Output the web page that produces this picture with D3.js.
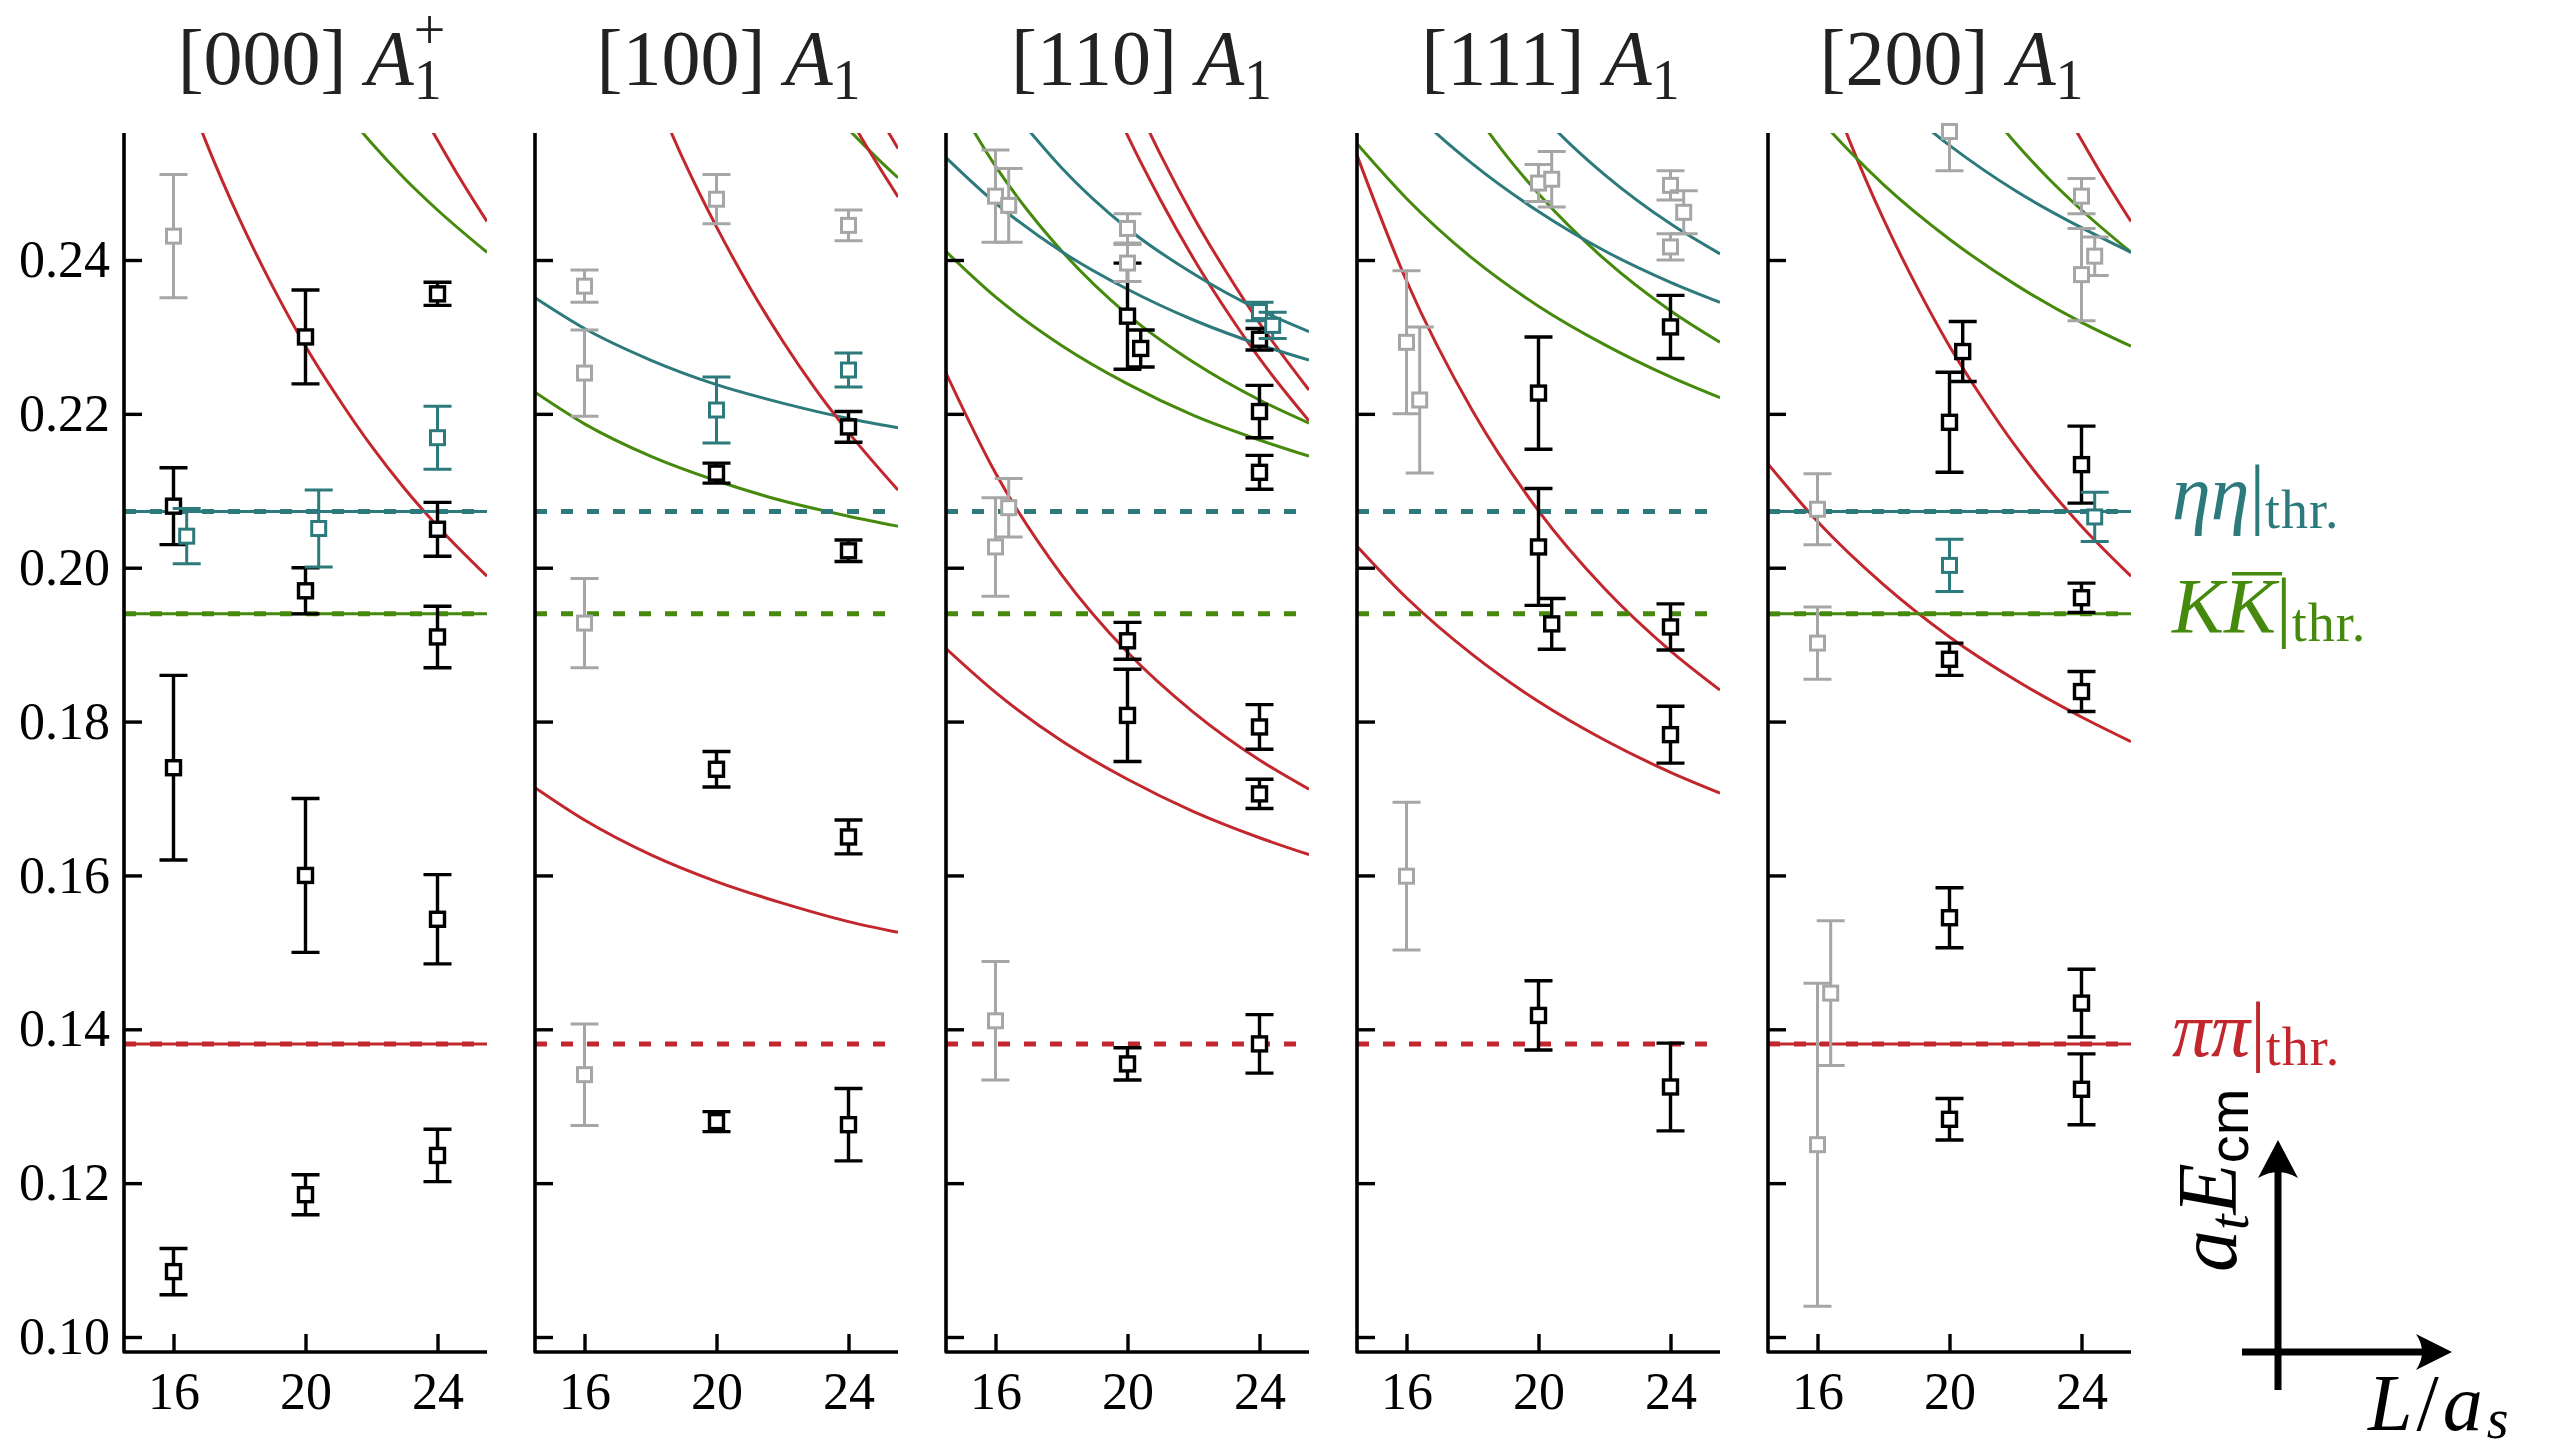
<!DOCTYPE html>
<html lang="en">
<head>
<meta charset="UTF-8">
<title>Finite-volume spectra, A1 irreps</title>
<script src="https://d3js.org/d3.v7.min.js"></script>
<style>
  body { margin: 0; background: #fff; }
  svg text { font-family: "Liberation Serif", "DejaVu Serif", serif; }
</style>
</head>
<body>
<svg id="chart" width="2553" height="1451"></svg>
<script>
// ---------- data ----------
const panelMomenta = ["[000]", "[100]", "[110]", "[111]", "[200]"];
const panelSup = ["+", "", "", "", ""];
const yTicks = [0.10, 0.12, 0.14, 0.16, 0.18, 0.20, 0.22, 0.24];
const xTicks = [16, 20, 24];
const thrNames = ["pipi", "kk", "etaeta"];
const thrValues = [0.1381, 0.1940, 0.2073];
// panels where the threshold is also a solid non-interacting level
const solidThrPanels = [0, 4];

// non-interacting levels: [L/a_s, a_t E_cm]
const curves000 = [
  { ch: "pipi", pts: [[16.5, 0.2607], [17, 0.2552], [18, 0.2453], [19, 0.2366], [20, 0.2288], [21, 0.2220], [22, 0.2158], [23, 0.2103], [24, 0.2054], [25.5, 0.1989]] },
  { ch: "kk",   pts: [[21, 0.2604], [22, 0.2552], [23, 0.2506], [24, 0.2465], [25.5, 0.2410]] },
  { ch: "pipi", pts: [[23, 0.2635], [23.5, 0.2594], [24, 0.2556], [24.5, 0.2519], [25.5, 0.2450]] }
];
const curves100 = [
  { ch: "pipi",   pts: [[14.5, 0.1714], [16, 0.1672], [18, 0.1627], [20, 0.1592], [22, 0.1564], [24, 0.1540], [25.5, 0.1526]] },
  { ch: "etaeta", pts: [[14.5, 0.2351], [16, 0.2311], [18, 0.2270], [20, 0.2238], [22, 0.2214], [24, 0.2194], [25.5, 0.2182]] },
  { ch: "kk",     pts: [[14.5, 0.2228], [16, 0.2187], [18, 0.2145], [20, 0.2113], [22, 0.2087], [24, 0.2067], [25.5, 0.2054]] },
  { ch: "pipi",   pts: [[18, 0.2629], [19, 0.2530], [20, 0.2443], [21, 0.2365], [22, 0.2295], [23, 0.2232], [24, 0.2176], [25.5, 0.2101]] },
  { ch: "kk",     pts: [[23.5, 0.2594], [24, 0.2570], [24.5, 0.2548], [25, 0.2527], [25.5, 0.2507]] },
  { ch: "pipi",   pts: [[24, 0.2588], [24.5, 0.2551], [25, 0.2516], [25.5, 0.2482]] },
  { ch: "pipi",   pts: [[25, 0.2581], [25.25, 0.2563], [25.5, 0.2545]] }
];
const curves110 = [
  { ch: "pipi",   pts: [[14.5, 0.1895], [16, 0.1838], [18, 0.1775], [20, 0.1725], [22, 0.1683], [24, 0.1649], [25.5, 0.1627]] },
  { ch: "pipi",   pts: [[14.5, 0.2253], [16, 0.2123], [18, 0.1991], [20, 0.1890], [22, 0.1812], [24, 0.1750], [25.5, 0.1712]] },
  { ch: "pipi",   pts: [[19, 0.2657], [20, 0.2562], [21, 0.2478], [22, 0.2402], [23, 0.2334], [24, 0.2272], [25.5, 0.2191]] },
  { ch: "pipi",   pts: [[20, 0.2627], [21, 0.2537], [22, 0.2456], [23, 0.2384], [24, 0.2318], [25.5, 0.2231]] },
  { ch: "kk",     pts: [[14.5, 0.2411], [16, 0.2352], [18, 0.2289], [20, 0.2239], [22, 0.2198], [24, 0.2166], [25.5, 0.2145]] },
  { ch: "kk",     pts: [[15, 0.2592], [16, 0.2522], [17, 0.2463], [18, 0.2412], [20, 0.2329], [22, 0.2267], [24, 0.2218], [25.5, 0.2188]] },
  { ch: "etaeta", pts: [[14.5, 0.2533], [16, 0.2474], [18, 0.2411], [20, 0.2362], [22, 0.2322], [24, 0.2290], [25.5, 0.2270]] },
  { ch: "etaeta", pts: [[17, 0.2569], [18, 0.2520], [20, 0.2441], [22, 0.2382], [24, 0.2335], [25.5, 0.2307]] }
];
const curves111 = [
  { ch: "pipi",   pts: [[14.5, 0.2028], [16, 0.1961], [18, 0.1887], [20, 0.1826], [22, 0.1776], [24, 0.1734], [25.5, 0.1707]] },
  { ch: "pipi",   pts: [[14.5, 0.2536], [16, 0.2373], [18, 0.2204], [20, 0.2074], [22, 0.1973], [24, 0.1892], [25.5, 0.1841]] },
  { ch: "kk",     pts: [[14.5, 0.2551], [16, 0.2480], [18, 0.2402], [20, 0.2340], [22, 0.2290], [24, 0.2248], [25.5, 0.2221]] },
  { ch: "kk",     pts: [[18, 0.2595], [19, 0.2537], [20, 0.2486], [22, 0.2401], [24, 0.2334], [25.5, 0.2293]] },
  { ch: "etaeta", pts: [[16, 0.2602], [17, 0.2561], [18, 0.2525], [20, 0.2463], [22, 0.2412], [24, 0.2371], [25.5, 0.2345]] },
  { ch: "etaeta", pts: [[20, 0.2592], [21, 0.2549], [22, 0.2511], [24, 0.2447], [25.5, 0.2408]] }
];
const curves200 = [
  { ch: "pipi",   pts: [[14.5, 0.2135], [16, 0.2060], [18, 0.1978], [20, 0.1910], [22, 0.1854], [24, 0.1806], [25.5, 0.1774]] },
  { ch: "pipi",   pts: [[16.5, 0.2607], [17, 0.2552], [18, 0.2453], [19, 0.2366], [20, 0.2288], [21, 0.2220], [22, 0.2158], [23, 0.2103], [24, 0.2054], [25.5, 0.1989]] },
  { ch: "pipi",   pts: [[23, 0.2635], [23.5, 0.2594], [24, 0.2556], [24.5, 0.2519], [25.5, 0.2450]] },
  { ch: "kk",     pts: [[16, 0.2586], [17, 0.2540], [18, 0.2498], [20, 0.2427], [22, 0.2368], [24, 0.2319], [25.5, 0.2288]] },
  { ch: "kk",     pts: [[21, 0.2604], [22, 0.2552], [23, 0.2506], [24, 0.2465], [25.5, 0.2410]] },
  { ch: "etaeta", pts: [[19, 0.2583], [20, 0.2549], [22, 0.2490], [24, 0.2442], [25.5, 0.2410]] }
];

// extracted levels: [L/a_s, a_t E_cm, error, kind]  k = black, t = teal, g = grey
const points000 = [
  [16, 0.2431, 0.0080, "g"], [16, 0.2080, 0.0050, "k"], [16.4, 0.2041, 0.0036, "t"],
  [16, 0.1740, 0.0120, "k"], [16, 0.1085, 0.0030, "k"],
  [20, 0.2300, 0.0061, "k"], [20.4, 0.2051, 0.0050, "t"], [20, 0.1970, 0.0030, "k"],
  [20, 0.1600, 0.0100, "k"], [20, 0.1185, 0.0026, "k"],
  [24, 0.2356, 0.0015, "k"], [24, 0.2169, 0.0041, "t"], [24, 0.2050, 0.0035, "k"],
  [24, 0.1910, 0.0040, "k"], [24, 0.1543, 0.0058, "k"], [24, 0.1236, 0.0034, "k"]
];
const points100 = [
  [16, 0.2366, 0.0021, "g"], [16, 0.2253, 0.0056, "g"], [16, 0.1928, 0.0058, "g"], [16, 0.1341, 0.0066, "g"],
  [20, 0.2479, 0.0032, "g"], [20, 0.2205, 0.0043, "t"], [20, 0.2123, 0.0013, "k"],
  [20, 0.1738, 0.0023, "k"], [20, 0.1280, 0.0013, "k"],
  [24, 0.2445, 0.0020, "g"], [24, 0.2257, 0.0022, "t"], [24, 0.2183, 0.0020, "k"],
  [24, 0.2022, 0.0014, "k"], [24, 0.1650, 0.0022, "k"], [24, 0.1276, 0.0047, "k"]
];
const points110 = [
  [16, 0.2483, 0.0060, "g"], [16.4, 0.2471, 0.0048, "g"], [16.4, 0.2078, 0.0038, "g"],
  [16, 0.2027, 0.0064, "g"], [16, 0.1411, 0.0077, "g"],
  [20, 0.2441, 0.0019, "g"], [20, 0.2396, 0.0024, "g"], [20, 0.2327, 0.0069, "k"],
  [20.4, 0.2285, 0.0024, "k"], [20, 0.1905, 0.0024, "k"], [20, 0.1808, 0.0060, "k"], [20, 0.1355, 0.0021, "k"],
  [24, 0.2333, 0.0012, "t"], [24.4, 0.2315, 0.0017, "t"], [24, 0.2297, 0.0014, "k"],
  [24, 0.2203, 0.0034, "k"], [24, 0.2124, 0.0022, "k"], [24, 0.1793, 0.0029, "k"],
  [24, 0.1706, 0.0019, "k"], [24, 0.1381, 0.0038, "k"]
];
const points111 = [
  [16, 0.2293, 0.0093, "g"], [16.4, 0.2218, 0.0095, "g"], [16, 0.1599, 0.0096, "g"],
  [20, 0.2500, 0.0024, "g"], [20.4, 0.2505, 0.0036, "g"], [20, 0.2227, 0.0073, "k"],
  [20, 0.2027, 0.0076, "k"], [20.4, 0.1927, 0.0033, "k"], [20, 0.1418, 0.0045, "k"],
  [24, 0.2497, 0.0019, "g"], [24.4, 0.2462, 0.0028, "g"], [24, 0.2417, 0.0017, "g"],
  [24, 0.2313, 0.0041, "k"], [24, 0.1923, 0.0030, "k"], [24, 0.1783, 0.0037, "k"], [24, 0.1325, 0.0057, "k"]
];
const points200 = [
  [16, 0.2076, 0.0046, "g"], [16, 0.1902, 0.0047, "g"], [16.4, 0.1447, 0.0094, "g"], [16, 0.1250, 0.0210, "g"],
  [20, 0.2567, 0.0051, "g"], [20.4, 0.2281, 0.0039, "k"], [20, 0.2189, 0.0065, "k"], [20, 0.2003, 0.0034, "t"],
  [20, 0.1881, 0.0021, "k"], [20, 0.1545, 0.0039, "k"], [20, 0.1283, 0.0027, "k"],
  [24, 0.2483, 0.0023, "g"], [24.4, 0.2405, 0.0025, "g"], [24, 0.2381, 0.0060, "g"],
  [24, 0.2134, 0.0050, "k"], [24.4, 0.2066, 0.0032, "t"], [24, 0.1961, 0.0019, "k"],
  [24, 0.1839, 0.0026, "k"], [24, 0.1434, 0.0044, "k"], [24, 0.1322, 0.0046, "k"]
];

const panels = [
  { curves: curves000, points: points000 },
  { curves: curves100, points: points100 },
  { curves: curves110, points: points110 },
  { curves: curves111, points: points111 },
  { curves: curves200, points: points200 }
];

// ---------- styling / layout ----------
const chColor = { pipi: "#c1272d", kk: "#458a0c", etaeta: "#2d7a7d" };
const ptColor = { k: "#000000", t: "#2d7a7d", g: "#a6a6a6" };
const kindOrder = ["k", "t", "g"];
const titleShift = [6, 12, 14, 12, 2];

const panelX0 = 124, panelStep = 411, panelW = 363;
const yTop = 133, yBot = 1352;

const svg = d3.select("#chart");
const x = d3.scaleLinear().domain([14.5, 25.5]).range([0, panelW]);
const y = d3.scaleLinear().domain([0.10, 0.24]).range([1337, 260]);
const line = d3.line().x(d => x(d[0])).y(d => y(d[1])).curve(d3.curveMonotoneX);

panels.forEach((p, i) => {
  const g = svg.append("g").attr("transform", `translate(${panelX0 + i * panelStep},0)`);

  g.append("clipPath").attr("id", "clip" + i)
    .append("rect")
    .attr("x", 0).attr("y", yTop)
    .attr("width", panelW).attr("height", yBot - yTop);

  const plot = g.append("g").attr("clip-path", `url(#clip${i})`);

  // non-interacting curves
  plot.selectAll(".curve")
    .data(p.curves)
    .join("path")
    .attr("class", "curve")
    .attr("d", d => line(d.pts))
    .attr("fill", "none")
    .attr("stroke", d => chColor[d.ch])
    .attr("stroke-width", 3);

  const thr = thrNames.map((n, j) => ({ ch: n, v: thrValues[j] }));

  if (solidThrPanels.includes(i)) {
    plot.selectAll(".thr-solid")
      .data(thr)
      .join("line")
      .attr("class", "thr-solid")
      .attr("x1", x(14.5)).attr("x2", x(25.5))
      .attr("y1", d => y(d.v)).attr("y2", d => y(d.v))
      .attr("stroke", d => chColor[d.ch])
      .attr("stroke-width", 3);
  }

  plot.selectAll(".thr-dash")
    .data(thr)
    .join("line")
    .attr("class", "thr-dash")
    .attr("x1", x(14.5)).attr("x2", x(25.5))
    .attr("y1", d => y(d.v)).attr("y2", d => y(d.v))
    .attr("stroke", d => chColor[d.ch])
    .attr("stroke-width", 5)
    .attr("stroke-dasharray", "12,14");

  // data points with error bars
  const pts = p.points.slice().sort((a, b) => kindOrder.indexOf(a[3]) - kindOrder.indexOf(b[3]));
  const capW = 28, box = 14;
  const pg = g.selectAll(".pt")
    .data(pts)
    .join("g")
    .attr("class", "pt");

  pg.append("path")
    .attr("clip-path", `url(#clip${i})`)
    .attr("d", d => {
      const cx = x(d[0]), yl = y(d[1] - d[2]), yh = y(d[1] + d[2]);
      return `M${cx - capW / 2},${yl}H${cx + capW / 2}M${cx - capW / 2},${yh}H${cx + capW / 2}M${cx},${yl}V${yh}`;
    })
    .attr("fill", "none")
    .attr("stroke", d => ptColor[d[3]])
    .attr("stroke-width", d => d[3] === "k" ? 3.4 : 3);

  pg.append("rect")
    .attr("x", d => x(d[0]) - box / 2)
    .attr("y", d => y(d[1]) - box / 2)
    .attr("width", box).attr("height", box)
    .attr("fill", "#fff")
    .attr("stroke", d => ptColor[d[3]])
    .attr("stroke-width", d => d[3] === "k" ? 3.4 : 3);

  // axes
  const yAxis = g.append("g")
    .call(d3.axisLeft(y).tickValues(yTicks).tickSize(-18).tickSizeOuter(0).tickPadding(14)
      .tickFormat(i === 0 ? d3.format(".2f") : () => ""));
  const xAxis = g.append("g")
    .attr("transform", `translate(0,${yBot})`)
    .call(d3.axisBottom(x).tickValues(xTicks).tickSize(-18).tickSizeOuter(0).tickPadding(20));

  [yAxis, xAxis].forEach(a => {
    a.select(".domain").remove();
    a.selectAll(".tick line").attr("stroke", "#000").attr("stroke-width", 3.4);
    a.selectAll(".tick text")
      .attr("font-family", "Liberation Serif")
      .attr("font-size", 52)
      .attr("fill", "#000");
  });

  g.append("path")
    .attr("d", `M0,${yTop}V${yBot}H${panelW}`)
    .attr("fill", "none")
    .attr("stroke", "#000")
    .attr("stroke-width", 3.6)
    .attr("stroke-linejoin", "round");

  // title
  const t = g.append("text")
    .attr("x", panelW / 2 + titleShift[i])
    .attr("y", 84)
    .attr("text-anchor", "middle")
    .attr("font-size", 78)
    .attr("fill", "#222");
  t.append("tspan").text(panelMomenta[i] + " ");
  t.append("tspan").attr("font-style", "italic").text("A");
  t.append("tspan").attr("font-size", 56).attr("dy", 15).text("1");
  if (panelSup[i]) {
    t.append("tspan").attr("font-size", 56).attr("dx", -28).attr("dy", -50).text(panelSup[i]);
  }
});

// threshold labels on the right
const labelX = 2172;
const labelDy = { pipi: 12, kk: 18, etaeta: 7 };
const labelMain = { pipi: ["π", "π"], kk: ["K", "K"], etaeta: ["η", "η"] };
thrNames.forEach((n, j) => {
  const ty = y(thrValues[j]) + labelDy[n];
  const t = svg.append("text")
    .attr("x", labelX).attr("y", ty)
    .attr("font-size", 78)
    .attr("fill", chColor[n]);
  t.append("tspan").attr("font-style", "italic").text(labelMain[n][0]);
  t.append("tspan").attr("font-style", "italic").text(labelMain[n][1]);
  t.append("tspan").text("|");
  t.append("tspan").attr("font-size", 54).attr("dy", 9).attr("letter-spacing", 1).text("thr.");
  if (n === "kk") {
    // overline on the second K
    const node = t.node();
    const s = node.getStartPositionOfChar(1).x;
    const e = node.getEndPositionOfChar(1).x;
    svg.append("line")
      .attr("x1", s + 8).attr("x2", e + 6)
      .attr("y1", ty - 58).attr("y2", ty - 58)
      .attr("stroke", chColor[n]).attr("stroke-width", 3.5);
  }
});

// axis key: arrows + labels
const key = svg.append("g");
key.append("path")
  .attr("d", "M2278,1390V1160M2242,1352H2432")
  .attr("stroke", "#000").attr("stroke-width", 7).attr("fill", "none");
key.append("path")
  .attr("d", "M2278,1140L2298,1178Q2278,1166 2258,1178Z")
  .attr("fill", "#000");
key.append("path")
  .attr("d", "M2452,1352L2416,1334Q2428,1352 2416,1370Z")
  .attr("fill", "#000");

const yl = key.append("text")
  .attr("transform", "translate(2236,1272) rotate(-90)")
  .attr("font-size", 84);
yl.append("tspan").attr("font-style", "italic").text("a");
yl.append("tspan").attr("font-style", "italic").attr("font-size", 56).attr("dy", 12).text("t");
yl.append("tspan").attr("font-style", "italic").attr("dy", -12).text("E");
yl.append("tspan").attr("font-family", "Liberation Sans").attr("font-size", 56).attr("dy", 12).text("cm");

const xl = key.append("text")
  .attr("x", 2368).attr("y", 1430)
  .attr("font-size", 80)
  .attr("letter-spacing", 4);
xl.append("tspan").attr("font-style", "italic").text("L");
xl.append("tspan").text("/");
xl.append("tspan").attr("font-style", "italic").text("a");
xl.append("tspan").attr("font-style", "italic").attr("font-size", 56).attr("dy", 8).text("s");
</script>
</body>
</html>
